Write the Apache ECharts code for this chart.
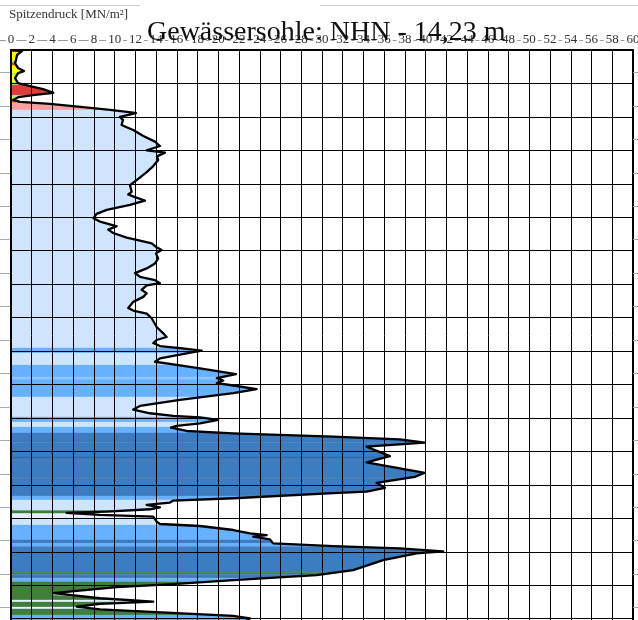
<!DOCTYPE html>
<html><head><meta charset="utf-8">
<script src="https://cdn.jsdelivr.net/npm/echarts@6/dist/echarts.min.js"></script>
<style>html,body{margin:0;padding:0;background:#fff}#c{width:638px;height:620px}</style>
</head><body><div id="c"></div>
<script>
// Spitzendruck profile: depth [m below top of chart], cone resistance [MN/m²]
const depth = [0.00,0.03,0.15,0.30,0.39,0.54,0.63,0.69,0.84,0.99,1.08,1.17,1.28,1.35,1.41,1.49,1.55,1.61,1.71,1.79,
  1.87,1.89,2.00,2.09,2.24,2.31,2.39,2.57,2.74,2.87,3.00,3.07,3.18,3.29,3.47,3.65,3.89,4.04,4.24,4.32,
  4.40,4.50,4.63,4.78,4.90,5.03,5.13,5.23,5.27,5.37,5.47,5.61,5.70,5.78,5.90,5.98,6.08,6.23,6.38,6.53,
  6.67,6.78,6.88,6.97,7.04,7.17,7.27,7.38,7.53,7.71,7.79,7.88,8.02,8.28,8.47,8.58,8.67,8.76,8.85,8.91,
  8.99,9.07,9.22,9.32,9.40,9.52,9.69,9.81,9.88,9.96,10.03,10.14,10.26,10.46,10.64,10.75,10.86,10.94,10.98,11.06,
  11.16,11.24,11.29,11.39,11.46,11.56,11.64,11.74,11.86,12.06,12.14,12.33,12.51,12.64,12.76,12.94,13.09,13.20,13.25,13.40,
  13.47,13.53,13.60,13.67,13.73,13.80,13.84,13.90,13.95,14.10,14.17,14.23,14.35,14.45,14.50,14.55,14.63,14.75,14.83,14.90,
  14.99,15.05,15.25,15.55,15.70,15.85,15.97,16.06,16.24,16.29,16.39,16.49,16.56,16.64,16.72,16.82,16.92,16.99,17.19];
const qc = [0.19,1.06,0.58,0.48,0.39,0.68,1.25,0.68,0.39,0.68,1.83,3.09,4.08,2.12,0.70,0.22,0.87,3.76,6.94,9.55,
  11.79,12.05,10.51,10.80,10.67,11.16,11.79,12.76,13.89,14.37,13.09,14.85,14.08,14.20,13.72,13.09,12.12,11.48,11.64,11.31,
  11.96,12.92,11.48,9.23,8.26,7.96,8.58,9.71,10.19,9.38,9.86,11.16,12.44,13.57,14.05,14.53,13.98,14.20,13.89,13.09,
  11.96,12.44,13.89,14.37,13.09,12.60,13.09,12.76,11.79,11.31,11.79,13.09,13.57,14.05,14.69,15.01,14.05,13.72,14.37,16.30,
  18.39,16.94,14.37,13.89,15.65,18.23,21.70,19.86,20.47,19.86,21.44,23.69,21.44,16.30,12.44,11.79,13.40,15.65,18.23,19.99,
  18.23,15.98,15.43,16.94,21.41,31.05,37.51,39.92,34.30,35.90,36.55,34.30,37.51,39.92,38.96,35.26,36.07,34.30,31.08,21.44,
  15.65,15.33,13.09,14.37,13.40,9.23,5.37,8.58,13.72,14.05,14.37,18.23,21.44,23.05,24.66,23.37,24.98,25.29,31.08,37.51,
  41.69,39.12,35.90,33.01,29.48,21.44,15.65,10.19,4.08,3.92,8.58,13.72,8.58,6.34,8.58,15.01,21.44,23.05,22.08];

// soil layers (depth ranges) and classification
const layerTop    = [0.00,0.07,0.30,0.37,0.46,0.69,0.75,0.96,1.05,1.35,1.41,1.49,1.58,1.79,8.91,9.06,9.42,9.78,9.84,10.37,
  10.97,11.12,11.27,11.45,11.70,11.73,12.17,12.20,12.28,12.31,12.78,12.82,13.33,13.45,13.77,13.86,14.00,14.20,14.65,14.75,
  14.84,15.61,15.67,15.76,15.79,15.90,16.44,16.50,16.65,16.71,16.89];
const layerBottom = [0.07,0.30,0.37,0.46,0.69,0.75,0.96,1.05,1.35,1.41,1.49,1.58,1.79,8.91,9.06,9.42,9.78,9.84,10.37,10.97,
  11.12,11.27,11.45,11.70,11.73,12.17,12.20,12.28,12.31,12.78,12.82,13.33,13.45,13.77,13.86,14.00,14.20,14.65,14.75,14.84,
  15.61,15.67,15.76,15.79,15.90,16.44,16.50,16.65,16.71,16.89,17.60];
const layerSoil   = ['R','Y','G','R','Y','G','Y','G','R','G','Y','R','P','L','M','L','M','N','M','L',
  'M','L','M','D','K','D','K','D','K','D','K','D','M','L','S','W','L','M','D','M',
  'D','S','D','S','M','S','W','S','W','S','M'];
const soilColors = {Y:'#ffff00', R:'#e03b3b', G:'#a8e4a0', P:'#ff9f9f', L:'#cfe5ff', W:'#e4f0ff',
  M:'#68b1ff', N:'#8cc3ff', D:'#3c7cc0', K:'#2c68aa', S:'#3f7f3a'};

const xMin = 0, xMax = 60, xStep = 2;
const yMin = 0, yMax = 18, yStep = 1;
const sideTicks = [0.67,1.67,2.67,3.67,4.67,5.67,6.67,7.67,8.67,9.67,10.67,11.67,12.67,13.67,14.67,15.67,16.67,17.67];

function curveAt(d) {
  if (d <= depth[0]) return qc[0];
  for (let i = 1; i < depth.length; i++) {
    if (depth[i] >= d) {
      const t = (d - depth[i-1]) / (depth[i] - depth[i-1]);
      return qc[i-1] + t * (qc[i] - qc[i-1]);
    }
  }
  return qc[qc.length-1];
}

const chart = echarts.init(document.getElementById('c'), null, {renderer:'canvas'});
const serif = 'Liberation Serif';
chart.setOption({
  animation: false,
  backgroundColor: '#fff',
  title: [
    {text:'Gewässersohle: NHN - 14,23 m', left:147, top:19, padding:0, z:20,
     textStyle:{fontFamily:serif, fontSize:28, fontWeight:'normal', color:'#111'}},
    {text:'Spitzendruck [MN/m²]', left:9, top:8, padding:0,
     textStyle:{fontFamily:serif, fontSize:13, fontWeight:'normal', color:'#333'}}
  ],
  graphic: [
    {type:'line', z:1, shape:{x1:0,y1:40.5,x2:638,y2:40.5}, style:{stroke:'#999', lineWidth:1}},
    {type:'line', z:1, shape:{x1:0,y1:5.5,x2:140,y2:5.5}, style:{stroke:'#ccc', lineWidth:1}},
    {type:'line', z:1, shape:{x1:320,y1:5.5,x2:638,y2:5.5}, style:{stroke:'#ccc', lineWidth:1}}
  ],
  grid: {left:11, top:50, width:622, height:602.1, outerBoundsMode:'none', containLabel:false},
  xAxis: [{
    type:'value', position:'top', min:xMin, max:xMax, interval:xStep, z:5,
    axisLine:{show:true, onZero:false, lineStyle:{color:'#000', width:2}},
    axisTick:{show:false},
    axisLabel:{show:true, margin:10, verticalAlign:'middle', color:'#333', fontFamily:serif, fontSize:13,
      backgroundColor:'#fff', padding:[0,2], showMinLabel:true, showMaxLabel:true, hideOverlap:false},
    splitLine:{show:true, lineStyle:{color:'#000', width:1}}
  }],
  yAxis: [
    {type:'value', inverse:true, min:yMin, max:yMax, interval:yStep, position:'left', z:5,
     axisLine:{show:true, onZero:false, lineStyle:{color:'#000', width:2}}, axisTick:{show:false}, axisLabel:{show:false},
     splitLine:{show:true, lineStyle:{color:'#000', width:1}}},
    {type:'value', inverse:true, min:yMin, max:yMax, interval:yStep, position:'left', offset:0,
     axisLine:{show:false}, axisTick:{show:true, length:11, customValues:sideTicks, lineStyle:{color:'#aaa'}},
     axisLabel:{show:false}, splitLine:{show:false}},
    {type:'value', inverse:true, min:yMin, max:yMax, interval:yStep, position:'right', z:5,
     axisLine:{show:true, onZero:false, lineStyle:{color:'#000', width:2}},
     axisTick:{show:true, length:8, customValues:sideTicks, lineStyle:{color:'#aaa'}},
     axisLabel:{show:false}, splitLine:{show:false}}
  ],
  series: [
    {type:'custom', coordinateSystem:'cartesian2d', xAxisIndex:0, yAxisIndex:0, z:1, clip:true,
     encode:{y:[0,1]},
     data: layerTop.map((t,i)=>[t, layerBottom[i]]),
     renderItem: function(params, api){
       const d0 = api.value(0), d1 = api.value(1);
       const pts = [api.coord([0,d0]), api.coord([curveAt(d0),d0])];
       for (let i = 0; i < depth.length; i++) {
         if (depth[i] > d0 && depth[i] < d1) pts.push(api.coord([qc[i], depth[i]]));
       }
       pts.push(api.coord([curveAt(d1),d1]));
       pts.push(api.coord([0,d1]));
       return {type:'polygon', shape:{points:pts},
         style:{fill: soilColors[layerSoil[params.dataIndex]], stroke:soilColors[layerSoil[params.dataIndex]], lineWidth:0.3}};
     }},
    {type:'line', xAxisIndex:0, yAxisIndex:0, z:10, showSymbol:false, symbol:'none', smooth:false,
     lineStyle:{color:'#000', width:2.3, join:'round'}, clip:true,
     data: depth.map((d,i)=>[qc[i], d])}
  ]
});
</script></body></html>
